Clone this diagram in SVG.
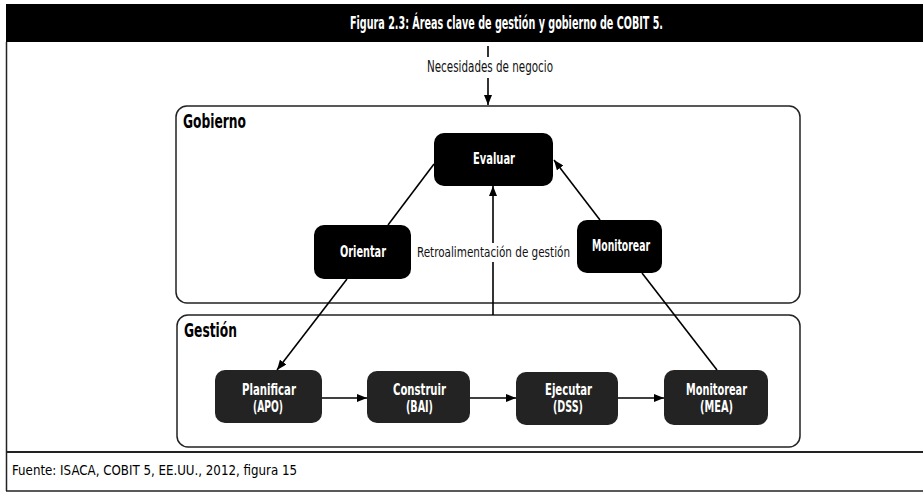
<svg xmlns="http://www.w3.org/2000/svg" width="923" height="495" viewBox="0 0 923 495">
<defs>
<marker id="ah" viewBox="0 0 10 8" refX="10" refY="4" markerWidth="10" markerHeight="8" markerUnits="userSpaceOnUse" orient="auto">
<path d="M0,0 L10,4 L0,8 Z" fill="#000"/>
</marker>
</defs>
<style>
text{font-family:"Liberation Sans Narrow","DejaVu Sans Condensed","Liberation Sans",sans-serif;font-stretch:condensed}
.t{font-weight:bold;font-size:17px;fill:#fff}
.lbl{font-size:15.5px;fill:#111}
.fb{font-size:14px;fill:#111}
.grp{font-weight:bold;font-size:19px;fill:#000}
.n{font-weight:bold;font-size:15px;fill:#fff;text-anchor:middle}
.gob{fill:#000}
.ges{fill:#232323}
.area{fill:none;stroke:#222;stroke-width:1.5}
.c{stroke:#000;stroke-width:1.6;fill:none}
.src{font-size:13.5px;fill:#000}
</style>
<rect width="923" height="495" fill="#fff"/>
<g id="frame">
<rect x="6" y="4" width="917" height="38" fill="#000"/>
<line x1="6.5" y1="42" x2="6.5" y2="491" stroke="#222" stroke-width="1.5"/>
<line x1="6" y1="452" x2="923" y2="452" stroke="#222" stroke-width="2"/>
<line x1="6" y1="491" x2="923" y2="491" stroke="#222" stroke-width="1.5"/>
<text class="t" x="350" y="29" textLength="313" lengthAdjust="spacingAndGlyphs">Figura 2.3:  Áreas clave de gestión y gobierno de COBIT 5.</text>
<text class="src" x="12" y="475" textLength="285" lengthAdjust="spacingAndGlyphs">Fuente:  ISACA, COBIT 5, EE.UU., 2012, figura 15</text>
</g>
<g id="gobierno">
<rect class="area" x="176" y="106" width="624" height="197" rx="11"/>
<text class="grp" x="183" y="128" textLength="63" lengthAdjust="spacingAndGlyphs">Gobierno</text>
</g>
<g id="gestion">
<rect class="area" x="177" y="315" width="623" height="132" rx="11"/>
<text class="grp" x="184" y="337" textLength="53" lengthAdjust="spacingAndGlyphs">Gestión</text>
</g>
<g id="evaluar">
<rect class="gob" x="434" y="133" width="119" height="53" rx="10"/>
<text class="n" x="494" y="164" textLength="42" lengthAdjust="spacingAndGlyphs">Evaluar</text>
</g>
<g id="orientar">
<rect class="gob" x="314" y="225" width="97" height="54" rx="10"/>
<text class="n" x="363" y="257" textLength="46" lengthAdjust="spacingAndGlyphs">Orientar</text>
</g>
<g id="monitorear-gob">
<rect class="gob" x="577" y="220" width="85" height="53" rx="10"/>
<text class="n" x="621" y="251" textLength="58" lengthAdjust="spacingAndGlyphs">Monitorear</text>
</g>
<g id="planificar">
<rect class="ges" x="215" y="370" width="107" height="53" rx="10"/>
<text class="n" x="269" y="395" textLength="54" lengthAdjust="spacingAndGlyphs">Planificar</text>
<text class="n" x="268" y="412" textLength="30" lengthAdjust="spacingAndGlyphs">(APO)</text>
</g>
<g id="construir">
<rect class="ges" x="367" y="371" width="103" height="52" rx="10"/>
<text class="n" x="419.5" y="395" textLength="53" lengthAdjust="spacingAndGlyphs">Construir</text>
<text class="n" x="419.5" y="412" textLength="27" lengthAdjust="spacingAndGlyphs">(BAI)</text>
</g>
<g id="ejecutar">
<rect class="ges" x="516" y="372" width="102" height="53" rx="10"/>
<text class="n" x="568.5" y="395" textLength="47" lengthAdjust="spacingAndGlyphs">Ejecutar</text>
<text class="n" x="568" y="412" textLength="30" lengthAdjust="spacingAndGlyphs">(DSS)</text>
</g>
<g id="monitorear-mea">
<rect class="ges" x="664" y="370" width="104" height="55" rx="10"/>
<text class="n" x="716.5" y="395" textLength="61" lengthAdjust="spacingAndGlyphs">Monitorear</text>
<text class="n" x="716.5" y="412" textLength="33" lengthAdjust="spacingAndGlyphs">(MEA)</text>
</g>
<g id="labels">
<text class="lbl" x="427" y="72" textLength="126" lengthAdjust="spacingAndGlyphs">Necesidades de negocio</text>
<text class="fb" x="417" y="257" textLength="153" lengthAdjust="spacingAndGlyphs">Retroalimentación de gestión</text>
</g>
<g id="connectors">
<line class="c" x1="488" y1="46" x2="488" y2="57"/>
<line class="c" x1="488" y1="78" x2="488" y2="105" marker-end="url(#ah)"/>
<line class="c" x1="434" y1="164" x2="388" y2="225"/>
<line class="c" x1="347" y1="279" x2="277" y2="370" marker-end="url(#ah)"/>
<line class="c" x1="600" y1="220" x2="554" y2="160" marker-end="url(#ah)"/>
<line class="c" x1="717" y1="370" x2="642" y2="273"/>
<line class="c" x1="493" y1="315" x2="493" y2="262"/>
<line class="c" x1="493" y1="243" x2="493" y2="186" marker-end="url(#ah)"/>
<line class="c" x1="322" y1="398" x2="367" y2="398" marker-end="url(#ah)"/>
<line class="c" x1="470" y1="398" x2="516" y2="398" marker-end="url(#ah)"/>
<line class="c" x1="618" y1="398" x2="664" y2="398" marker-end="url(#ah)"/>
</g>
</svg>
